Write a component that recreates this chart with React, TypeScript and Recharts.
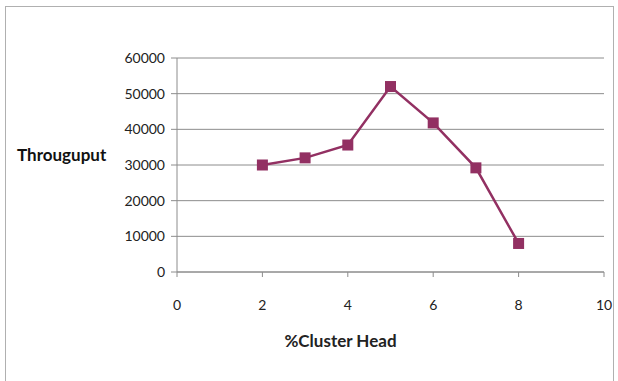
import React from 'react';
import { LineChart, Line, XAxis, YAxis, CartesianGrid, Label } from 'recharts';

const clusterHead = [2, 3, 4, 5, 6, 7, 8];
const throughput = [30000, 32000, 35600, 52000, 41800, 29200, 8000];
const xTicks = [0, 2, 4, 6, 8, 10];
const yTicks = [0, 10000, 20000, 30000, 40000, 50000, 60000];

const data = clusterHead.map((x, i) => ({ x, y: throughput[i] }));

const LINE_COLOR = '#923062';
const AXIS_COLOR = '#8c8c8c';
const FONT = 'Lato, "Open Sans", sans-serif';

const SquareDot = (props: any) => {
  const { cx, cy } = props;
  if (cx == null || cy == null) return null;
  return <rect x={cx - 5.5} y={cy - 5.5} width={11} height={11} fill={LINE_COLOR} />;
};

const App: React.FC = () => {
  return (
    <div
      style={{
        position: 'absolute',
        left: 0,
        top: 0,
        width: 618,
        height: 381,
        background: '#fff',
        fontFamily: FONT,
      }}
    >
      <div
        style={{
          position: 'absolute',
          left: 5,
          top: 6,
          width: 607,
          height: 380,
          borderLeft: '1px solid #b0b0b0',
          borderTop: '1px solid #b0b0b0',
          borderRight: '1px solid #b0b0b0',
        }}
      />
      <LineChart
        width={618}
        height={381}
        data={data}
        margin={{ top: 58, right: 14, bottom: 29, left: 5 }}
        style={{ position: 'absolute', left: 0, top: 0 }}
      >
        <CartesianGrid horizontal vertical={false} stroke={AXIS_COLOR} strokeWidth={1} />
        <XAxis
          dataKey="x"
          type="number"
          domain={[0, 10]}
          ticks={xTicks}
          height={80}
          stroke={AXIS_COLOR}
          tickSize={5}
          tickMargin={23}
          tick={{ fill: '#222', fontSize: 14, fontFamily: FONT }}
        >
          <Label
            value="%Cluster Head"
            position="insideBottom"
            offset={5}
            dx={-50}
            style={{ fill: '#222', fontSize: 17, fontWeight: 'bold', fontFamily: FONT }}
          />
        </XAxis>
        <YAxis
          dataKey="y"
          type="number"
          domain={[0, 60000]}
          ticks={yTicks}
          width={172}
          stroke={AXIS_COLOR}
          tickSize={6}
          tickMargin={6}
          tick={{ fill: '#222', fontSize: 14, fontFamily: FONT }}
        >
          <Label
            value="Througuput"
            position="insideLeft"
            offset={12}
            dy={-10}
            style={{ fill: '#111', fontSize: 17, fontWeight: 'bold', fontFamily: FONT }}
          />
        </YAxis>
        <Line
          type="linear"
          dataKey="y"
          stroke={LINE_COLOR}
          strokeWidth={2.5}
          dot={<SquareDot />}
          activeDot={false}
          isAnimationActive={false}
        />
      </LineChart>
    </div>
  );
};

export default App;
